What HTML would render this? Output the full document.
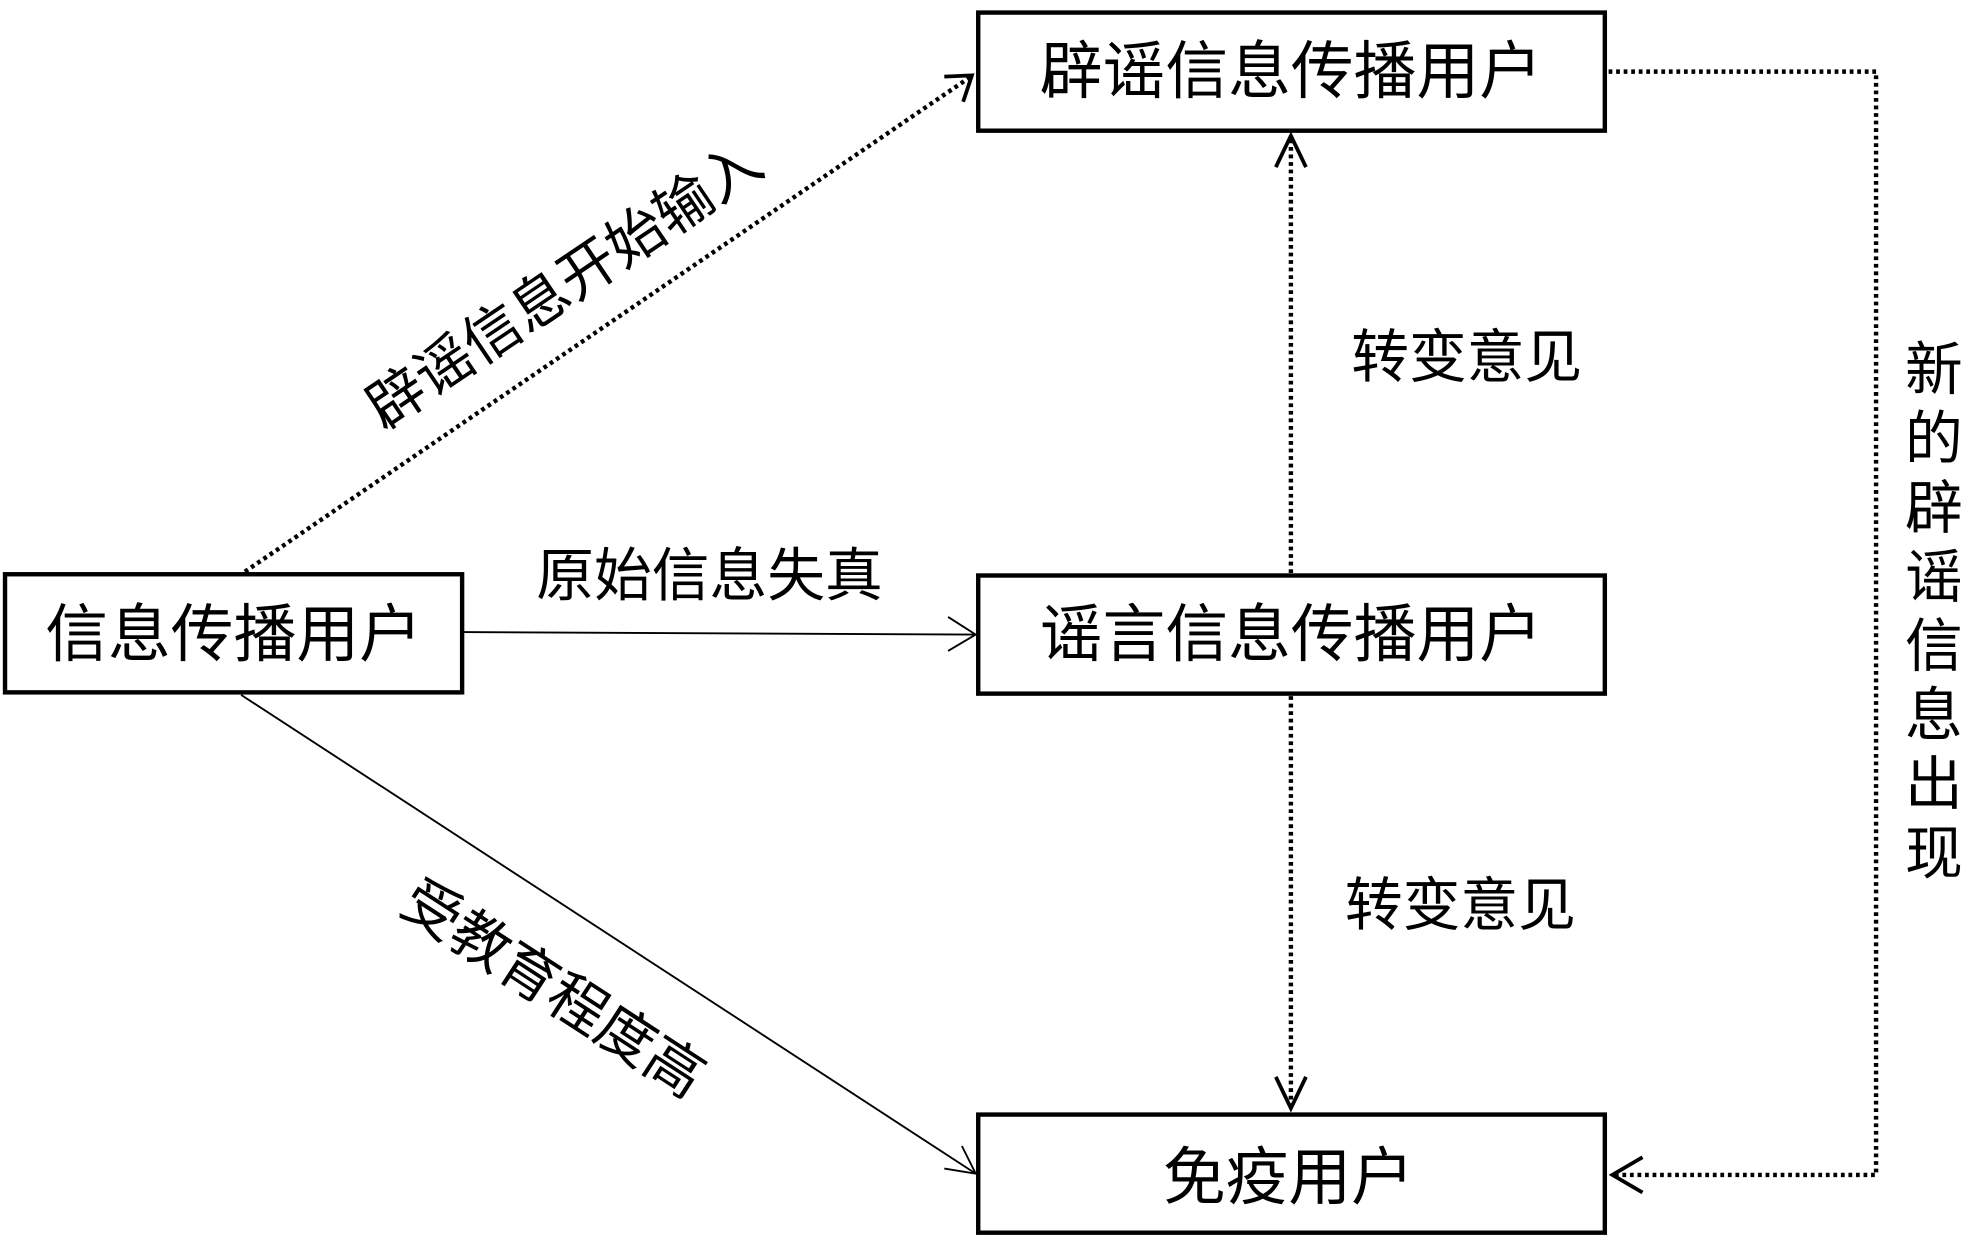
<!DOCTYPE html>
<html><head><meta charset="utf-8"><style>
html,body{margin:0;padding:0;background:#fff;}
svg{display:block;}
text{font-family:"Liberation Sans","Noto Sans CJK SC",sans-serif;fill:#000;}
</style></head><body>
<svg width="1969" height="1244" viewBox="0 0 1568 990" preserveAspectRatio="none" xmlns="http://www.w3.org/2000/svg">
<g fill="none" stroke="#000" stroke-width="3.5">
<rect x="4" y="457" width="364" height="94"/>
<rect x="779" y="10" width="499" height="94"/>
<rect x="779" y="458" width="499" height="94"/>
<rect x="779" y="887" width="499" height="94"/>
</g>
<g fill="none" stroke="#000">
<line x1="195" y1="455" x2="773" y2="61" stroke-width="3.5" stroke-dasharray="3,3"/>
<polyline points="752,61 774,60 767,81" stroke-width="3"/>
<line x1="368" y1="503" x2="776" y2="505" stroke-width="1.5"/>
<polyline points="755,491 777,505 755,518" stroke-width="1.5"/>
<line x1="192" y1="553" x2="777" y2="934" stroke-width="1.5"/>
<polyline points="752,930 777,934 766,912" stroke-width="1.5"/>
<line x1="1028" y1="456" x2="1028" y2="110" stroke-width="3.5" stroke-dasharray="3,3"/>
<polyline points="1016,133 1028,108 1040,133" stroke-width="3"/>
<line x1="1028" y1="554" x2="1028" y2="880" stroke-width="3.5" stroke-dasharray="3,3"/>
<polyline points="1016,857 1028,882 1040,857" stroke-width="3"/>
<polyline points="1281,57 1494,57 1494,935 1286,935" stroke-width="3.5" stroke-dasharray="3,3"/>
<polyline points="1308,921 1284,935 1308,949" stroke-width="3"/>
</g>
<g font-size="50" text-anchor="middle">
<text x="186" y="522">信息传播用户</text>
<text x="1028" y="74">辟谣信息传播用户</text>
<text x="1028" y="522">谣言信息传播用户</text>
<text x="1026" y="954">免疫用户</text>
</g>
<g font-size="46">
<text x="565" y="474" text-anchor="middle">原始信息失真</text>
<text x="1168" y="300" text-anchor="middle">转变意见</text>
<text x="1163" y="736" text-anchor="middle">转变意见</text>
<text transform="translate(458,240) rotate(-34)" text-anchor="middle">辟谣信息开始输入</text>
<text transform="translate(432,800) rotate(33)" text-anchor="middle">受教育程度高</text>
</g>
<g font-size="46" text-anchor="middle">
<text x="1540" y="310">新</text>
<text x="1540" y="365">的</text>
<text x="1540" y="420">辟</text>
<text x="1540" y="475">谣</text>
<text x="1540" y="530">信</text>
<text x="1540" y="585">息</text>
<text x="1540" y="640">出</text>
<text x="1540" y="695">现</text>
</g>
</svg>
</body></html>
